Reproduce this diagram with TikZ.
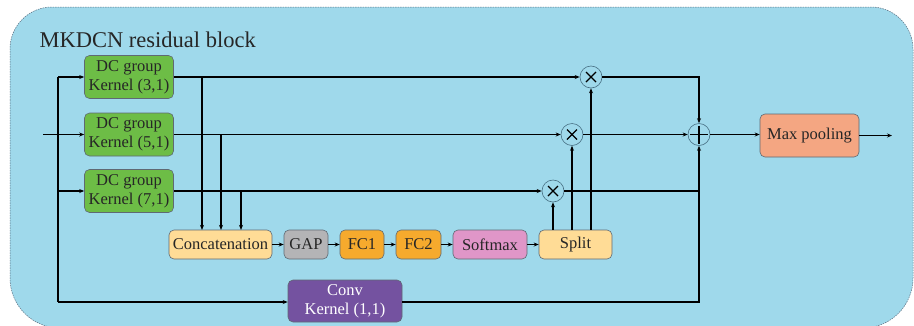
\documentclass[tikz,border=0pt]{standalone}
\usepackage{fontspec}
\setmainfont{Liberation Serif}
\usetikzlibrary{arrows.meta,calc}

\definecolor{blockbg}{RGB}{159,217,235}
\definecolor{blockedge}{RGB}{95,105,115}
\definecolor{frameedge}{RGB}{90,110,128}
\definecolor{dcgreen}{RGB}{109,189,70}
\definecolor{paleorange}{RGB}{255,220,150}
\definecolor{gapgray}{RGB}{180,180,182}
\definecolor{fcorange}{RGB}{246,170,45}
\definecolor{softpink}{RGB}{224,150,200}
\definecolor{poolsalmon}{RGB}{244,166,130}
\definecolor{convpurple}{RGB}{116,82,160}
\definecolor{opedge}{RGB}{70,110,130}

\tikzset{
  boxtext/.style={font=\fontsize{16.5}{19}\selectfont},
  unit/.style={boxtext, draw=blockedge, line width=0.6pt, rounded corners=5pt,
    inner sep=0pt, align=center, text=black!85},
  dcbox/.style={unit, fill=dcgreen, minimum width=89pt, minimum height=43pt},
  flowbox/.style={unit, minimum height=29pt},
  opnode/.style={circle, draw=opedge, line width=0.6pt, fill=blockbg,
    minimum size=22pt, inner sep=0pt},
  mulop/.style={opnode, path picture={
      \draw[line width=1.2pt, black]
        ($(path picture bounding box.center)+(-5,-5)$) -- ++(10,10)
        ($(path picture bounding box.center)+(-5,5)$) -- ++(10,-10);}},
  addop/.style={opnode, path picture={
      \draw[line width=1.2pt, black]
        ($(path picture bounding box.center)+(-9,0)$) -- ++(18,0)
        ($(path picture bounding box.center)+(0,-9)$) -- ++(0,18);}},
  wire/.style={line width=1.2pt, black},
  arr/.style={wire, -{Stealth[length=5pt,width=4pt]}},
}

\begin{document}
\begin{tikzpicture}[x=1pt,y=-1pt]
  \useasboundingbox (0,0) rectangle (914,325);
  \clip (0,0) rectangle (914,325);

  % block frame: tighter corners on top, wider ones at the bottom
  \draw[fill=blockbg, draw=frameedge, dash pattern=on 1.5pt off 1pt, line width=0.5pt]
    (10,150) [rounded corners=42pt] -- (10,7) -- (913,7) -- (913,150)
    [rounded corners=50pt] -- (913,328) -- (10,328) -- cycle;
  \node[anchor=west, font=\fontsize{22.5}{24}\selectfont, text=black!85]
    (title) at (36,40) {MKDCN residual block};

  % dilated convolution groups
  \node[dcbox] (dc1) at (129,77)    {DC group\\Kernel (3,1)};
  \node[dcbox] (dc2) at (129,134.5) {DC group\\Kernel (5,1)};
  \node[dcbox] (dc3) at (129,191)   {DC group\\Kernel (7,1)};

  % attention path
  \node[flowbox, fill=paleorange, minimum width=103pt] (concat) at (220.5,244.5) {Concatenation};
  \node[flowbox, fill=gapgray,    minimum width=44pt]  (gap)    at (306,244.5)   {GAP};
  \node[flowbox, fill=fcorange,   minimum width=44pt]  (fc1)    at (362,244.5)   {FC1};
  \node[flowbox, fill=fcorange,   minimum width=45pt]  (fc2)    at (418.5,244.5) {FC2};
  \node[flowbox, fill=softpink,   minimum width=74pt]  (soft)   at (490,244.5)   {Softmax};
  \node[flowbox, fill=paleorange, minimum width=73pt]  (split)  at (575.5,244.5) {Split};

  % shortcut convolution
  \node[unit, fill=convpurple, text=white, minimum width=114pt, minimum height=42pt]
    (conv) at (345,301) {Conv\\Kernel (1,1)};

  % weighting and fusion
  \node[mulop] (mul1) at (591,77) {};
  \node[mulop] (mul2) at (572,134.5) {};
  \node[mulop] (mul3) at (553,191) {};
  \node[addop] (add)  at (699,134.5) {};
  \node[unit, fill=poolsalmon, minimum width=99pt, minimum height=43pt]
    (pool) at (809.5,135.5) {Max pooling};

  % input fan-out
  \coordinate (in)   at (43,134.5);
  \coordinate (tapT) at (58,77);
  \coordinate (tapB) at (58,302);
  \coordinate (out)  at (892,135.5);
  \draw[arr] (in) -- (dc2.west);
  \draw[wire] (tapT) -- (tapB);
  \draw[arr] (tapT) -- (dc1.west);
  \draw[arr] (tapT |- dc3.west) -- (dc3.west);
  \draw[arr] (tapB) -- (tapB -| conv.west);

  % branch outputs
  \draw[arr] (dc1.east) -- (mul1.west);
  \draw[arr] (dc2.east) -- (mul2.west);
  \draw[arr] (dc3.east) -- (mul3.west);

  % taps into the concatenation
  \coordinate (d1) at (202,229.9);
  \coordinate (d2) at (221,229.9);
  \coordinate (d3) at (241,229.9);
  \draw[arr] (d1 |- dc1.east) -- (d1);
  \draw[arr] (d2 |- dc2.east) -- (d2);
  \draw[arr] (d3 |- dc3.east) -- (d3);

  % attention chain
  \draw[arr] (concat) -- (gap);
  \draw[arr] (gap) -- (fc1);
  \draw[arr] (fc1) -- (fc2);
  \draw[arr] (fc2) -- (soft);
  \draw[arr] (soft) -- (split);
  \draw[arr] (split.north -| mul3) -- (mul3.south);
  \draw[arr] (split.north -| mul2) -- (mul2.south);
  \draw[arr] (split.north -| mul1) -- (mul1.south);

  % fusion
  \draw[arr] (mul1.east) -| (add.north);
  \draw[arr] (mul2.east) -- (add.west);
  \draw[wire] (mul3.east) -- (mul3 -| add);
  \draw[arr] (conv.east |- tapB) -| (add.south);
  \draw[arr] (add.east) -- (pool.west |- add);
  \draw[arr] (pool.east |- out) -- (out);
\end{tikzpicture}
\end{document}
